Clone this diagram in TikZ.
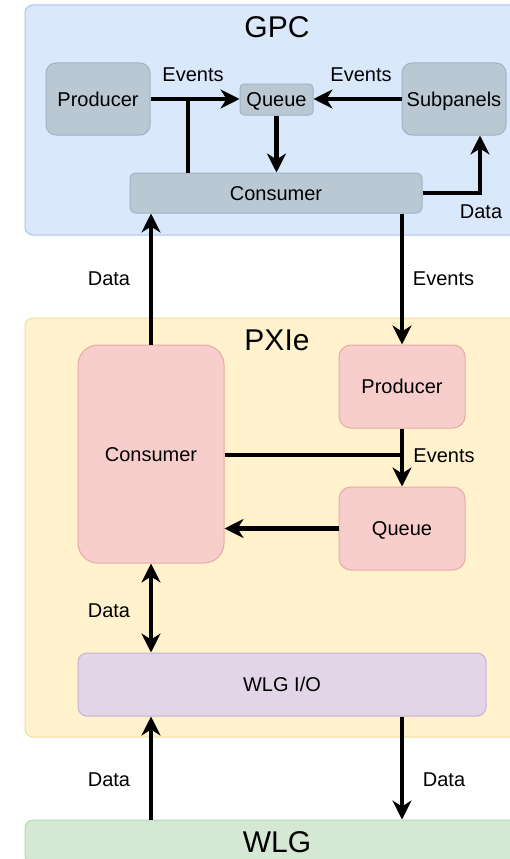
\documentclass[tikz,border=0pt]{standalone}
\usepackage{fontspec}
\setmainfont{Liberation Sans}
\usetikzlibrary{arrows.meta}

\definecolor{gpcfill}{HTML}{DAE8FC}
\definecolor{gpcline}{HTML}{A9C4EB}
\definecolor{pxifill}{HTML}{FFF2CC}
\definecolor{pxiline}{HTML}{F2DE9B}
\definecolor{wlgfill}{HTML}{D5E8D4}
\definecolor{wlgline}{HTML}{B9D7B5}
\definecolor{grayfill}{HTML}{BAC8D3}
\definecolor{grayline}{HTML}{9FB2C6}
\definecolor{redfill}{HTML}{F8CECC}
\definecolor{redline}{HTML}{E8A9A7}
\definecolor{iofill}{HTML}{E1D5E7}
\definecolor{ioline}{HTML}{C6B2D2}

\begin{document}
\begin{tikzpicture}[x=1pt,y=-1pt,>={Stealth[length=19pt,width=19pt,inset=6pt]}]
		\tikzstyle{every node}=[font=\fontsize{20pt}{24pt}\selectfont, inner sep=0pt, text height=14.3pt, text depth=0pt]
		\tikzstyle{heading}=[font=\fontsize{30pt}{36pt}\selectfont, text height=21.5pt]
		\tikzstyle{area}=[draw, line width=1pt, rounded corners=8pt, minimum width=504pt]
		\tikzstyle{block}=[draw, line width=1pt]
		\tikzstyle{gpcblock}=[block, fill=grayfill, draw=grayline]
		\tikzstyle{pxiblock}=[block, fill=redfill, draw=redline]
		\tikzstyle{flow}=[line width=4.5pt, ->]
		\tikzstyle{wire}=[line width=4.5pt]
		
		\useasboundingbox (0,0) rectangle (510,859);
		
		% the three machines
		\node [area, fill=gpcfill, draw=gpcline, minimum height=230pt] (gpc) at (277,120) {};
		\node [heading] (gpctitle) at (277,27) {GPC};
		\node [area, fill=pxifill, draw=pxiline, minimum height=419pt] (pxie) at (277,527.5) {};
		\node [heading] (pxietitle) at (277,340) {PXIe};
		\node [area, heading, fill=wlgfill, draw=wlgline, minimum height=44pt] (wlg) at (277,842) {WLG};
		
		% GPC side
		\node [gpcblock, rounded corners=10pt, minimum width=104pt, minimum height=72pt] (gpcprod) at (98,99) {Producer};
		\node [gpcblock, rounded corners=4pt, minimum width=73pt, minimum height=31pt] (gpcqueue) at (276.5,99.5) {Queue};
		\node [gpcblock, rounded corners=10pt, minimum width=104pt, minimum height=72pt] (subpanels) at (454,99) {Subpanels};
		\node [gpcblock, rounded corners=6pt, minimum width=292pt, minimum height=40pt] (gpccons) at (276,193) {Consumer};
		
		\draw [flow] (gpcprod.east) -- (gpcprod.east -| gpcqueue.west);
		\coordinate (split) at (188,99);
		\draw [wire] (split) -- (split |- gpccons.north);
		\draw [flow] (subpanels.west) -- (subpanels.west -| gpcqueue.east);
		\draw [flow] (gpcqueue.south) -- (gpcqueue.south |- gpccons.north);
		\coordinate (bend) at (480,193);
		\draw [flow] (gpccons.east) -- (bend) -- (bend |- subpanels.south);
		
		\node (ev1) at (193,74) {Events};
		\node (ev2) at (361,74) {Events};
		\node (dt1) at (481,211) {Data};
		
		% PXIe side
		\node [pxiblock, rounded corners=20pt, minimum width=146pt, minimum height=218pt] (pxicons) at (151,454) {Consumer};
		\node [pxiblock, rounded corners=12pt, minimum width=126pt, minimum height=83pt] (pxiprod) at (402,386.5) {Producer};
		\node [pxiblock, rounded corners=12pt, minimum width=126pt, minimum height=83pt] (pxiqueue) at (402,528.5) {Queue};
		\node [block, fill=iofill, draw=ioline, rounded corners=9pt, minimum width=408pt, minimum height=63pt] (wlgio) at (282,684.5) {WLG I/O};
		
		\draw [flow] (pxicons.north) -- (pxicons.north |- gpccons.south);
		\draw [flow] (pxiprod.north |- gpccons.south) -- (pxiprod.north);
		\node (dt2) at (109,278) {Data};
		\node (ev3) at (443.5,278) {Events};
		
		\draw [flow] (pxiprod.south) -- (pxiqueue.north);
		\coordinate (merge) at (402,455);
		\draw [wire] (merge -| pxicons.east) -- (merge);
		\draw [flow] (pxiqueue.west) -- (pxiqueue.west -| pxicons.east);
		\node (ev4) at (444,455) {Events};
		
		% WLG I/O
		\draw [wire, <->] (pxicons.south) -- (pxicons.south |- wlgio.north);
		\node (dt3) at (109,610) {Data};
		
		\draw [flow] (pxicons.south |- wlg.north) -- (pxicons.south |- wlgio.south);
		\draw [flow] (pxiqueue.south |- wlgio.south) -- (pxiqueue.south |- wlg.north);
		\node (dt4) at (109,779) {Data};
		\node (dt5) at (444,779) {Data};
		
	\end{tikzpicture}
\end{document}
